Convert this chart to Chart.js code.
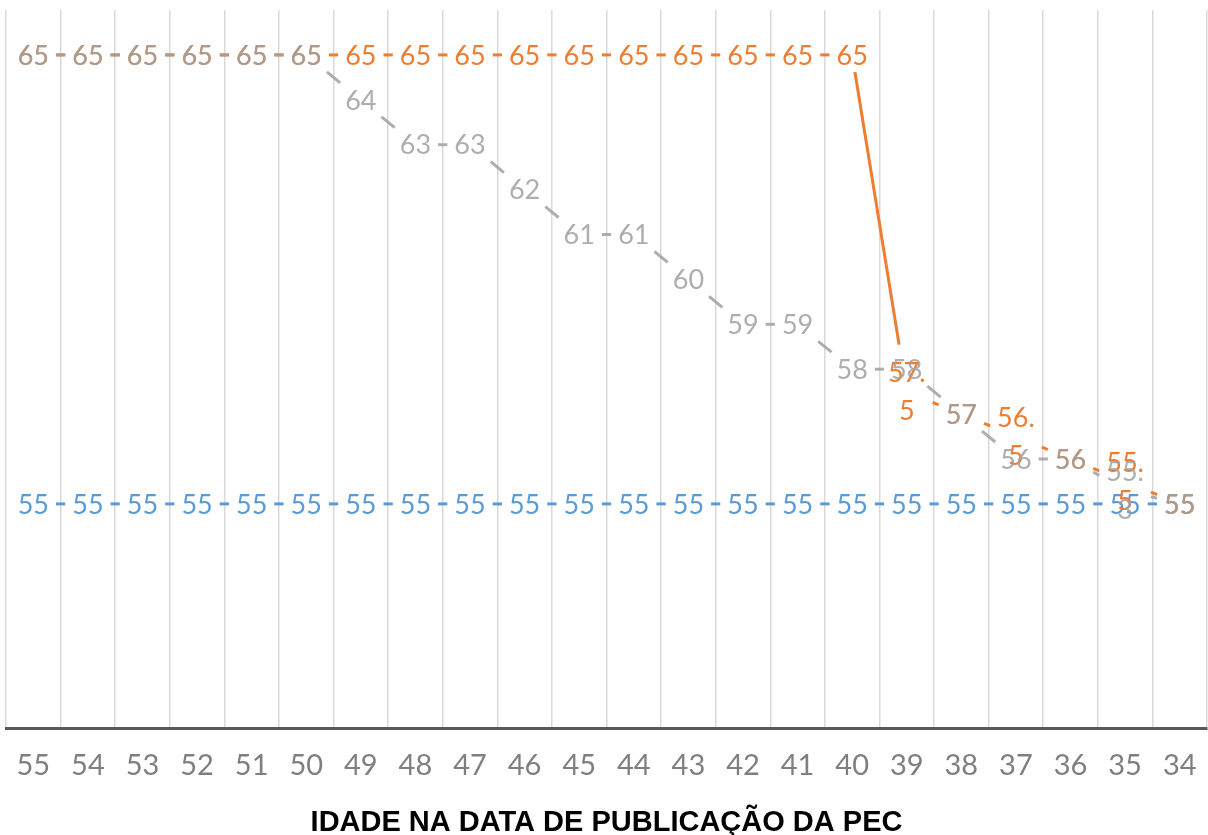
<!DOCTYPE html>
<html>
<head>
<meta charset="utf-8">
<script src="https://cdn.jsdelivr.net/npm/chart.js@4.4.1/dist/chart.umd.min.js"></script>
<style>
  html, body { margin: 0; padding: 0; background: #ffffff; }
  #wrap { width: 1208px; height: 835px; position: relative; }
</style>
</head>
<body>
<div id="wrap"><canvas id="c"></canvas></div>
<script>
/* idade na publicação da PEC vs idade mínima */

var ages = ['55', '54', '53', '52', '51', '50', '49', '48', '47', '46', '45',
            '44', '43', '42', '41', '40', '39', '38', '37', '36', '35', '34'];

var blueVals = [55, 55, 55, 55, 55, 55, 55, 55, 55, 55, 55,
                55, 55, 55, 55, 55, 55, 55, 55, 55, 55, 55];

var orangeVals = [65, 65, 65, 65, 65, 65, 65, 65, 65, 65, 65,
                  65, 65, 65, 65, 65, 57.5, 57, 56.5, 56, 55.5, 55];

var grayVals = [65, 65, 65, 65, 65, 65, 64, 63, 63, 62, 61,
                61, 60, 59, 59, 58, 58, 57, 56, 56, 55.3, 55];

var xTitle = 'IDADE NA DATA DE PUBLICAÇÃO DA PEC';

var _labelFont = '27px Lato';
var _lineH = 38;

function _labelLines(v) {
  var s = String(v);
  if (s.indexOf('.') < 0) return [s];
  var parts = s.split('.');
  return [parts[0] + '.', parts[1]];
}

// lines between points, cut away around each value label, then the labels
var gapLabels = {
  id: 'gapLabels',
  afterDatasetsDraw: function(chart) {
    var ctx = chart.ctx;
    ctx.save();
    ctx.font = _labelFont;
    chart.data.datasets.forEach(function(ds, di) {
      var meta = chart.getDatasetMeta(di);
      var pts = meta.data;
      var boxes = pts.map(function(p, i) {
        var lines = _labelLines(ds.data[i]);
        var w = 0;
        lines.forEach(function(l) { w = Math.max(w, ctx.measureText(l).width); });
        return {lines: lines, hw: w / 2 + 7, hh: 17 + (lines.length - 1) * (_lineH / 2 + 11)};
      });
      ctx.globalAlpha = ds.labelAlpha || 1;
      ctx.strokeStyle = ds.borderColor;
      ctx.lineWidth = 3;
      ctx.lineCap = 'butt';
      for (var i = 0; i < pts.length - 1; i++) {
        var a = pts[i], b = pts[i + 1];
        var dx = b.x - a.x, dy = b.y - a.y;
        var len = Math.sqrt(dx * dx + dy * dy);
        var ux = dx / len, uy = dy / len;
        var sa = Math.min(ux ? boxes[i].hw / Math.abs(ux) : 1e9, uy ? boxes[i].hh / Math.abs(uy) : 1e9);
        var sb = Math.min(ux ? boxes[i + 1].hw / Math.abs(ux) : 1e9, uy ? boxes[i + 1].hh / Math.abs(uy) : 1e9);
        if (sa + sb >= len) continue;
        ctx.beginPath();
        ctx.moveTo(a.x + ux * sa, a.y + uy * sa);
        ctx.lineTo(b.x - ux * sb, b.y - uy * sb);
        ctx.stroke();
      }
      ctx.fillStyle = ds.borderColor;
      ctx.textAlign = 'center';
      ctx.textBaseline = 'middle';
      pts.forEach(function(p, i) {
        var lines = boxes[i].lines;
        var y0 = p.y - (lines.length - 1) * _lineH / 2;
        lines.forEach(function(l, k) { ctx.fillText(l, p.x, y0 + k * _lineH + 1); });
      });
      ctx.globalAlpha = 1;
    });
    ctx.restore();
  }
};

new Chart(document.getElementById('c'), {
  type: 'line',
  data: {
    labels: ages,
    datasets: [
      {label: 'blue', data: blueVals, borderColor: '#5b9bd5', showLine: false, pointRadius: 0},
      {label: 'orange', data: orangeVals, borderColor: '#ed7d31', showLine: false, pointRadius: 0},
      {label: 'gray', data: grayVals, borderColor: '#a0a0a0', showLine: false, pointRadius: 0, labelAlpha: 0.85}
    ]
  },
  options: {
    responsive: true, maintainAspectRatio: false, animation: false,
    layout: {padding: {left: 6, right: 1, top: 10, bottom: 0}},
    plugins: {legend: {display: false}, tooltip: {enabled: false}},
    scales: {
      x: {
        offset: true,
        afterFit: function(scale) { scale.paddingLeft = 0; scale.paddingRight = 0; },
        grid: {offset: true, color: '#d9d9d9', lineWidth: 1.5, drawTicks: false},
        border: {display: true, color: '#595959', width: 3},
        ticks: {color: '#7f7f7f', padding: 20, maxRotation: 0, autoSkip: false,
                font: {family: '"Liberation Sans Narrow", Lato', size: 29}},
        title: {display: true, text: xTitle, color: '#000000', padding: {top: 2, bottom: -5},
                font: {family: '"Liberation Sans Narrow", "Liberation Sans"', size: 29, weight: 'bold'}}
      },
      y: {display: false, min: 50, max: 66}
    }
  },
  plugins: [gapLabels]
});
</script>
</body>
</html>
